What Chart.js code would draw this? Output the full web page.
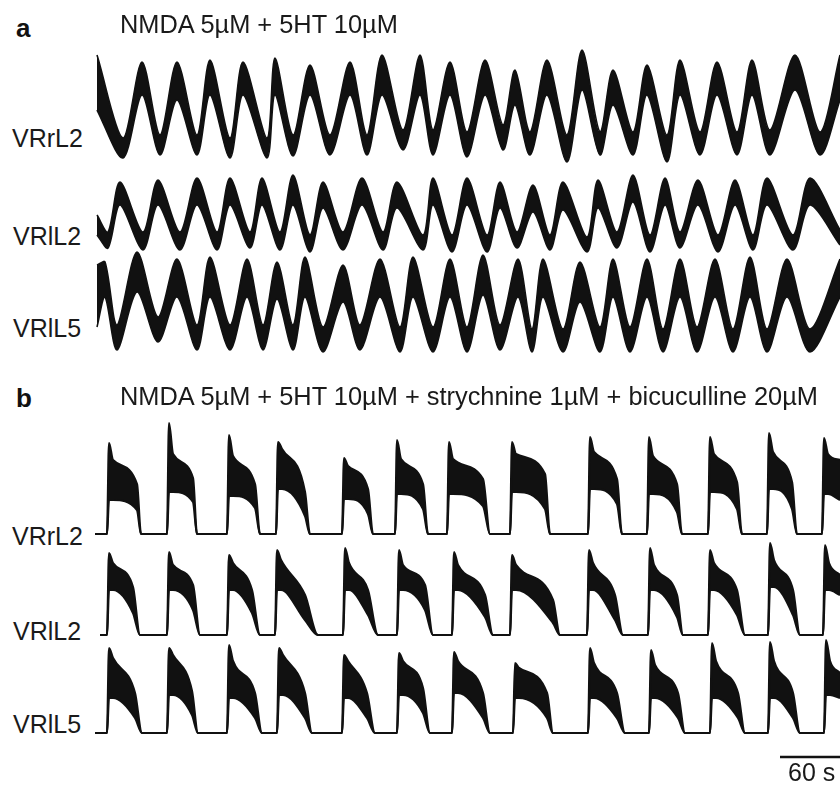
<!DOCTYPE html>
<html>
<head>
<meta charset="utf-8">
<script src="https://cdn.jsdelivr.net/npm/chart.js@4.4.1/dist/chart.umd.min.js"></script>
<style>
    body { margin: 0; background: #fff; }
    #fig { position: relative; width: 840px; height: 788px; overflow: hidden;
           font-family: "Liberation Sans", Arial, sans-serif; color: #1a1a1a; }
    #traces { position: absolute; left: 95px; top: 0; }
    .txt { position: absolute; font-size: 25px; line-height: 25px; white-space: nowrap; }
    .title { font-size: 25.4px; }
    .panel { font-weight: bold; font-size: 26px; line-height: 26px; color: #111; }
</style>
</head>
<body>
<div id="fig">
    <canvas id="traces" width="745" height="788"></canvas>

    <div class="txt panel" style="left:16px; top:15px;">a</div>
    <div class="txt title" style="left:120px; top:12px;">NMDA 5µM + 5HT 10µM</div>
    <div class="txt" style="left:12px; top:126px;">VRrL2</div>
    <div class="txt" style="left:13px; top:224px;">VRlL2</div>
    <div class="txt" style="left:13px; top:316px;">VRlL5</div>

    <div class="txt panel" style="left:16px; top:385px;">b</div>
    <div class="txt title" style="left:120px; top:384px;">NMDA 5µM + 5HT 10µM + strychnine 1µM + bicuculline 20µM</div>
    <div class="txt" style="left:12px; top:524px;">VRrL2</div>
    <div class="txt" style="left:13px; top:619px;">VRlL2</div>
    <div class="txt" style="left:13px; top:712px;">VRlL5</div>

    <div class="txt" style="left:788px; top:760px;">60 s</div>
</div>

<script>
// time axis in seconds, recording window shown
const tMax = 745;
const scaleBarSec = 60;

// panel a (NMDA + 5HT): [time s, upper edge, lower edge] of the noisy trace
// at troughs and peaks, amplitude in a.u. above the trough level
const aRrL2 = [[2,95,40],[28,12,-8],[47,88,55],[65,15,-5],[82,88,50],[102,15,-5],[115,90,55],
    [135,12,-8],[148,88,55],[172,12,-8],[180,92,55],[198,15,-6],[215,85,55],[235,15,-5],
    [255,88,55],[272,15,-5],[287,95,55],[308,20,0],[325,95,55],[338,20,-5],[355,88,55],
    [372,18,-7],[390,90,55],[408,25,0],[420,80,45],[435,18,-5],[452,90,55],[472,15,-12],
    [487,100,60],[505,18,-5],[518,80,45],[538,18,-5],[552,85,55],[572,15,-12],[585,90,55],
    [605,18,-5],[622,88,55],[642,18,-5],[657,90,55],[675,20,-5],[700,95,60],[725,18,-5],[745,95,50]];

const aRlL2 = [[2,25,5],[13,8,-8],[25,58,35],[48,8,-10],[63,60,35],[85,8,-10],[102,62,35],
    [122,8,-10],[135,62,35],[155,8,-8],[167,62,35],[185,8,-10],[198,65,35],[215,5,-12],
    [228,58,32],[248,8,-10],[267,62,35],[288,8,-10],[302,58,32],[328,5,-10],[338,62,35],
    [357,5,-12],[372,62,35],[392,5,-12],[405,58,32],[422,8,-8],[438,55,28],[455,5,-10],
    [468,58,30],[492,3,-12],[503,60,32],[522,8,-8],[538,65,38],[555,5,-12],[570,62,35],
    [585,8,-8],[603,60,35],[623,5,-12],[640,60,35],[658,5,-10],[672,62,35],[698,5,-10],
    [715,62,35],[745,10,-5]];

const aRlL5 = [[2,72,10],[10,75,40],[22,12,-13],[42,85,45],[63,20,-5],[82,78,40],[102,12,-13],
    [115,80,40],[135,12,-13],[152,78,40],[168,12,-13],[182,75,38],[198,12,-13],[210,80,40],
    [228,10,-15],[248,72,35],[265,12,-13],[285,78,40],[305,10,-15],[318,80,40],[338,10,-15],
    [355,78,40],[372,10,-15],[388,82,42],[405,12,-13],[423,78,40],[437,8,-15],[448,78,40],
    [468,8,-15],[485,75,35],[505,10,-15],[518,78,40],[535,10,-15],[552,78,40],[568,8,-15],
    [585,78,40],[602,10,-15],[620,78,40],[638,8,-15],[655,80,40],[672,8,-15],[692,78,40],
    [715,8,-15],[745,78,40]];

// panel b (+ strychnine + bicuculline): one row per burst
// [onset s, peak, fall start s, back at baseline s, early top, early bottom, late top, late bottom]
const bRrL2 = [[12,91,42,46,74,34,50,24],[72,111,98,102,80,42,56,32],[132,99,160,165,78,38,50,26],
    [181,92,210,215,85,45,42,18],[247,76,273,278,68,35,45,20],[300,94,328,333,75,40,50,25],
    [352,92,388,395,75,40,55,28],[415,92,450,455,80,42,60,25],[493,97,522,527,82,45,55,30],
    [552,97,582,587,78,40,50,22],[613,97,642,647,80,42,52,25],[672,101,697,702,82,45,52,25],
    [727,96,745,null,80,40,74,34]];

const bRlL2 = [[12,82,38,45,72,45,48,22],[72,83,98,105,70,45,50,25],[132,80,157,165,72,45,45,22],
    [180,85,210,223,75,45,40,15],[248,87,273,283,72,45,45,20],[302,85,330,338,70,45,50,25],
    [357,83,390,398,70,45,40,18],[415,80,458,465,70,45,35,12],[492,85,520,528,72,45,40,15],
    [553,87,582,588,70,45,40,18],[613,85,642,650,72,45,45,20],[673,92,698,705,75,48,45,20],
    [728,90,745,null,72,45,60,40]];

const bRlL5 = [[12,85,40,47,75,35,40,15],[72,85,97,103,78,38,42,18],[132,88,160,167,72,35,40,15],
    [182,85,210,217,78,38,40,15],[247,78,272,280,72,35,40,15],[302,80,328,335,72,38,45,20],
    [357,81,388,395,72,40,40,15],[418,70,452,458,65,35,40,15],[493,85,522,530,70,35,40,15],
    [554,83,583,590,68,35,40,15],[615,90,643,650,72,35,40,15],[673,91,698,705,72,35,40,15],
    [729,93,745,null,72,38,60,35]];

// vertical placement of each trace (pixel row of its baseline) and first sample time
const figHeight = 788;
const layout = [
    { rows: aRrL2, kind: 'a', base: 150 },
    { rows: aRlL2, kind: 'a', base: 240 },
    { rows: aRlL5, kind: 'a', base: 337 },
    { rows: bRrL2, kind: 'b', base: 534, start: 0 },
    { rows: bRlL2, kind: 'b', base: 635, start: 5 },
    { rows: bRlL5, kind: 'b', base: 733, start: 0 }
];
const scaleBarRow = 757;
const ink = '#111';

function envelopeA(rows, off) {
    return {
        hi: rows.map(r => ({ x: r[0], y: off + r[1] })),
        lo: rows.map(r => ({ x: r[0], y: off + r[2] }))
    };
}

function envelopeB(rows, off, start) {
    const hi = [], lo = [];
    const push = (t, h, l) => { hi.push({ x: t, y: off + h }); lo.push({ x: t, y: off + l }); };
    push(start, 0, 0);
    rows.forEach(([on, pk, fall, end, eT, eB, lT, lB]) => {
        push(on, 0, 0);
        push(on + 2, pk, eB);
        push(on + 6, eT, eB);
        push(fall, lT, lB);
        if (end !== null) push(end, 0, 0);
    });
    return { hi, lo };
}

const datasets = [];
layout.forEach(tr => {
    const off = figHeight - tr.base;
    const isA = tr.kind === 'a';
    const env = isA ? envelopeA(tr.rows, off) : envelopeB(tr.rows, off, tr.start);
    const curve = isA ? { tension: 0.3 } : { cubicInterpolationMode: 'monotone' };
    const width = isA ? 1.6 : 2.2;
    datasets.push(Object.assign({
        data: env.lo, borderColor: ink, borderWidth: width, pointRadius: 0,
        fill: false, clip: false
    }, curve));
    datasets.push(Object.assign({
        data: env.hi, borderColor: ink, borderWidth: width, pointRadius: 0,
        fill: '-1', backgroundColor: ink, clip: false
    }, curve));
});

// 60 s scale bar under the last trace
datasets.push({
    data: [{ x: tMax - scaleBarSec, y: figHeight - scaleBarRow }, { x: tMax, y: figHeight - scaleBarRow }],
    borderColor: ink, borderWidth: 2.5, pointRadius: 0, fill: false, clip: false
});

new Chart(document.getElementById('traces'), {
    type: 'line',
    data: { datasets: datasets },
    options: {
        responsive: false,
        animation: false,
        layout: { padding: 0 },
        scales: {
            x: { type: 'linear', min: 0, max: tMax, display: false },
            y: { type: 'linear', min: 0, max: figHeight, display: false }
        },
        plugins: {
            legend: { display: false },
            tooltip: { enabled: false }
        }
    }
});
</script>
</body>
</html>
